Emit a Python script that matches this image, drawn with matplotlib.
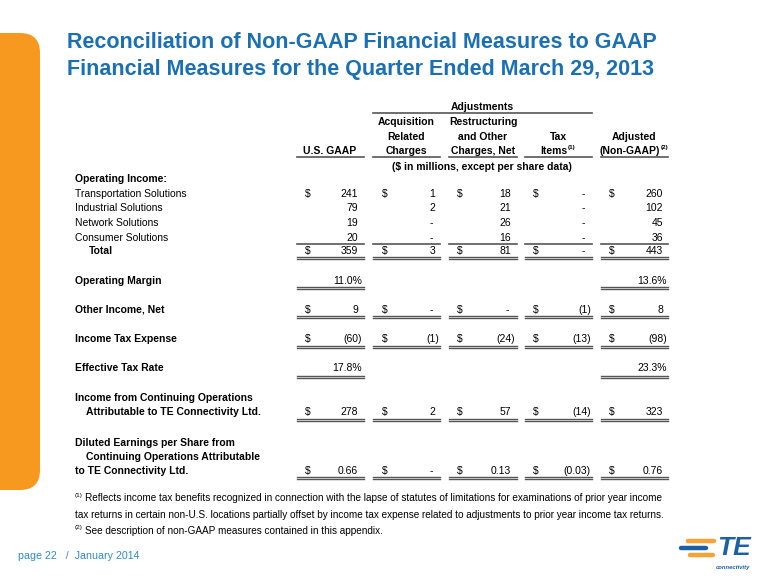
import matplotlib
matplotlib.use("Agg")
import matplotlib.pyplot as plt
from matplotlib.patches import FancyBboxPatch

plt.rcParams['font.family'] = ['Liberation Sans', 'DejaVu Sans']

# table data ($ in millions, except per share data)
row_kind = ['num', 'num', 'num', 'num', 'num', 'pct', 'num', 'num', 'pct', 'num', 'eps']
us_gaap = [241, 79, 19, 20, 359, 11.0, 9, -60, 17.8, 278, 0.66]
acquisition = [1, 2, 0, 0, 3, None, 0, -1, None, 2, 0]
restructuring = [18, 21, 26, 16, 81, None, 0, -24, None, 57, 0.13]
tax_items = [0, 0, 0, 0, 0, None, -1, -13, None, -14, -0.03]
adjusted = [260, 102, 45, 36, 443, 13.6, 8, -98, 23.3, 323, 0.76]
dollar_rows = [0, 4, 6, 7, 9, 10]

labels = [
    ("Operating Income:", 0, True),
    ("Transportation Solutions", 0, False),
    ("Industrial Solutions", 0, False),
    ("Network Solutions", 0, False),
    ("Consumer Solutions", 0, False),
    ("Total", 14, True),
    ("Operating Margin", 0, True),
    ("Other Income, Net", 0, True),
    ("Income Tax Expense", 0, True),
    ("Effective Tax Rate", 0, True),
    ("Income from Continuing Operations", 0, True),
    ("Attributable to TE Connectivity Ltd.", 11, True),
    ("Diluted Earnings per Share from", 0, True),
    ("Continuing Operations Attributable", 11, True),
    ("to TE Connectivity Ltd.", 0, True),
]
label_y = [179, 194, 208, 223, 238, 251, 281, 310, 339, 368, 398, 412, 443, 457, 471]
value_y = [194, 208, 223, 238, 251, 281, 310, 339, 368, 412, 471]

columns = [us_gaap, acquisition, restructuring, tax_items, adjusted]
col_span = [(297, 364), (373, 440), (449, 517), (525, 592), (601, 668)]
col_right = [358, 435, 511, 587, 663]
col_dollar = [305, 382, 457, 533, 609]

TITLE_BLUE = '#1A70B2'
LINE = '#555555'
FS = 7.5

fig = plt.figure(figsize=(7.8, 5.85), dpi=100)
ax = fig.add_axes([0, 0, 1, 1])
ax.set_xlim(0, 780)
ax.set_ylim(585, 0)
ax.axis('off')
renderer = fig.canvas.get_renderer()


def width_of(t):
    return t.get_window_extent(renderer).width


def header_sup(x, y, main, sup, size):
    # centred bold header with a trailing superscript
    t = ax.text(0, y, main, fontsize=size, fontweight='bold', va='center', ha='left')
    s = ax.text(0, y - 3, sup, fontsize=size * 0.6, fontweight='bold', va='center', ha='left')
    wm, ws = width_of(t), width_of(s)
    x0 = x - (wm + ws + 1) / 2
    t.set_x(x0)
    s.set_x(x0 + wm + 1)


def footnote(x, y, sup, main, size):
    s = ax.text(x, y - 3, sup, fontsize=size * 0.65, va='center', ha='left')
    ax.text(x + width_of(s) + 2, y, main, fontsize=size, va='center', ha='left')


# orange side tab
ax.add_patch(FancyBboxPatch((-40, 33), 80, 457, boxstyle="round,pad=0,rounding_size=20",
                            fc='#F7981F', ec='none'))

# title
ax.text(67, 42, "Reconciliation of Non-GAAP Financial Measures to GAAP", fontsize=15.5,
        fontweight='bold', color=TITLE_BLUE, va='center')
ax.text(67, 70, "Financial Measures for the Quarter Ended March 29, 2013", fontsize=15.5,
        fontweight='bold', color=TITLE_BLUE, va='center')

# column headers
ax.text(482, 107, "Adjustments", fontsize=FS, fontweight='bold', ha='center', va='center')
ax.plot([373, 592], [113, 113], color=LINE, lw=1.2)
ax.text(330, 151, "U.S. GAAP", fontsize=FS, fontweight='bold', ha='center', va='center')
for yy, s in zip([122, 137, 151], ["Acquisition", "Related", "Charges"]):
    ax.text(406, yy, s, fontsize=FS, fontweight='bold', ha='center', va='center')
for yy, s in zip([122, 137, 151], ["Restructuring", "and Other", "Charges, Net"]):
    ax.text(483, yy, s, fontsize=FS, fontweight='bold', ha='center', va='center')
ax.text(558, 137, "Tax", fontsize=FS, fontweight='bold', ha='center', va='center')
header_sup(558, 151, "Items", "(1)", FS)
ax.text(634, 137, "Adjusted", fontsize=FS, fontweight='bold', ha='center', va='center')
header_sup(634, 151, "(Non-GAAP)", "(2)", FS)
for a, b in col_span:
    ax.plot([a, b], [157, 157], color=LINE, lw=1.2)
ax.text(482, 167, "($ in millions, except per share data)", fontsize=FS, fontweight='bold',
        ha='center', va='center')

# row labels
for (s, indent, bold), yy in zip(labels, label_y):
    ax.text(75 + indent, yy, s, fontsize=FS, fontweight='bold' if bold else 'normal',
            va='center', ha='left')


def fmt(v, kind):
    if v is None:
        return None, 0
    if kind == 'pct':
        return f"{v:.1f}%", 4
    if v == 0:
        return "-", -2
    s = f"{abs(v):.2f}" if kind == 'eps' else f"{abs(v):.0f}"
    if v < 0:
        return f"({s})", 4
    return s, 0


for c, vals in enumerate(columns):
    for r, v in enumerate(vals):
        s, shift = fmt(v, row_kind[r])
        if s is None:
            continue
        ax.text(col_right[c] + shift, value_y[r], s, fontsize=FS, ha='right', va='center')
        if r in dollar_rows:
            ax.text(col_dollar[c], value_y[r], "$", fontsize=FS, ha='left', va='center')


def double_line(a, b, y):
    ax.plot([a, b], [y, y], color=LINE, lw=1.0)
    ax.plot([a, b], [y + 2.3, y + 2.3], color=LINE, lw=1.0)


# rules
for a, b in col_span:
    ax.plot([a, b], [244, 244], color=LINE, lw=1.2)
    double_line(a, b, 257)
    for yy in [316, 346, 419, 477]:
        double_line(a, b, yy)
for c in [0, 4]:
    a, b = col_span[c]
    double_line(a, b, 287)
    double_line(a, b, 376)

# footnotes
FN = 7.2
footnote(75, 498, "(1)", "Reflects income tax benefits recognized in connection with the lapse of statutes "
         "of limitations for examinations of prior year income", FN)
ax.text(75, 515, "tax returns in certain non-U.S. locations partially offset by income tax expense "
        "related to adjustments to prior year income tax returns.", fontsize=FN, va='center')
footnote(75, 531, "(2)", "See description of non-GAAP measures contained in this appendix.", FN)

# footer
ax.text(18, 556, "page 22   /  January 2014", fontsize=7.7, color='#2E8BC9', va='center')

# logo
ax.plot([688, 714], [541, 541], color='#F7981F', lw=3.2, solid_capstyle='round', alpha=0.9)
ax.plot([681, 706], [548, 548], color='#1B5FA5', lw=3.2, solid_capstyle='round')
ax.plot([690, 713], [555, 555], color='#F7981F', lw=3.2, solid_capstyle='round', alpha=0.9)
ax.text(717, 548, "TE", fontsize=19, fontweight='bold', style='italic', color='#1B5FA5',
        va='center', ha='left')
ax.text(716, 567, "connectivity", fontsize=4.2, style='italic', fontweight='bold', color='#1B5FA5',
        va='center', ha='left')

fig.savefig('out.png', dpi=100)
